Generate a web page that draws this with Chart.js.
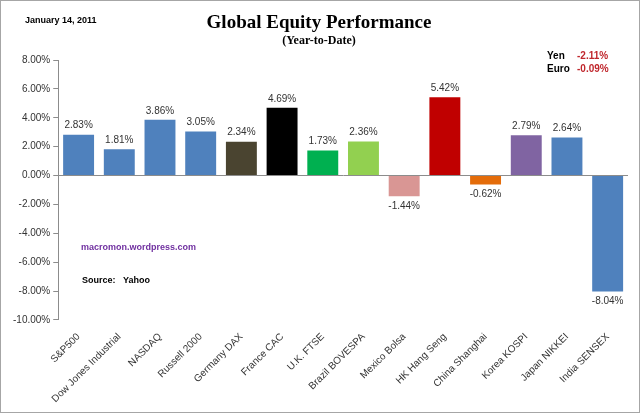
<!DOCTYPE html>
<html>
<head>
<meta charset="utf-8">
<script src="https://cdn.jsdelivr.net/npm/chart.js@4"></script>
<style>
  html, body { margin: 0; padding: 0; background: #fff; }
  #wrap { position: relative; width: 638px; height: 411px; border: 1px solid #a6a6a6; }
</style>
</head>
<body>
<div id="wrap"><canvas id="chart" width="638" height="411"></canvas></div>
<script>
const categories = ["S&P500", "Dow Jones Industrial", "NASDAQ", "Russell 2000", "Germany DAX",
  "France CAC", "U.K. FTSE", "Brazil BOVESPA", "Mexico Bolsa", "HK Hang Seng",
  "China Shanghai", "Korea KOSPI", "Japan NIKKEI", "India SENSEX"];
const performance = [2.83, 1.81, 3.86, 3.05, 2.34, 4.69, 1.73, 2.36, -1.44, 5.42, -0.62, 2.79, 2.64, -8.04];
const barColors = ["#4f81bd", "#4f81bd", "#4f81bd", "#4f81bd", "#4a4430", "#000000", "#00b050",
  "#92d050", "#d99694", "#c00000", "#e46c0a", "#8064a2", "#4f81bd", "#4f81bd"];
const yTicks = [-10, -8, -6, -4, -2, 0, 2, 4, 6, 8];
const currencyNames = ["Yen", "Euro"];
const currencyValues = ["-2.11%", "-0.09%"];

const labelFont = "'Liberation Sans', Arial, sans-serif";

const annotations = {
  id: "annotations",
  afterDatasetsDraw(chart) {
    const ctx = chart.ctx;
    const meta = chart.getDatasetMeta(0);
    ctx.save();
    ctx.font = "10px " + labelFont;
    ctx.fillStyle = "#333";
    ctx.textAlign = "center";
    meta.data.forEach((bar, i) => {
      const v = performance[i];
      if (v >= 0) {
        ctx.textBaseline = "bottom";
        ctx.fillText(v.toFixed(2) + "%", bar.x, bar.y - 4);
      } else {
        ctx.textBaseline = "top";
        ctx.fillText(v.toFixed(2) + "%", bar.x, bar.y + 5);
      }
    });
    ctx.restore();
  },
  afterDraw(chart) {
    const ctx = chart.ctx;
    ctx.save();
    ctx.fillStyle = "#000";
    ctx.textBaseline = "alphabetic";
    ctx.textAlign = "center";
    ctx.font = "bold 19px 'Liberation Serif', 'Times New Roman', serif";
    ctx.fillText("Global Equity Performance", 318, 27);
    ctx.font = "bold 12px 'Liberation Serif', 'Times New Roman', serif";
    ctx.fillText("(Year-to-Date)", 318, 43);
    ctx.textAlign = "left";
    ctx.font = "bold 9px " + labelFont;
    ctx.fillText("January 14, 2011", 24, 22);

    ctx.font = "bold 10px " + labelFont;
    currencyNames.forEach((n, i) => {
      ctx.fillStyle = "#000";
      ctx.fillText(n, 546, 58 + i * 13);
      ctx.fillStyle = "#c0272d";
      ctx.fillText(currencyValues[i], 576, 58 + i * 13);
    });

    ctx.fillStyle = "#7030a0";
    ctx.font = "bold 9px " + labelFont;
    ctx.fillText("macromon.wordpress.com", 80, 249);
    ctx.fillStyle = "#000";
    ctx.fillText("Source:   Yahoo", 81, 282);
    ctx.restore();
  }
};

new Chart(document.getElementById("chart"), {
  type: "bar",
  data: {
    labels: categories,
    datasets: [{
      data: performance,
      backgroundColor: barColors,
      barPercentage: 0.76,
      categoryPercentage: 1
    }]
  },
  options: {
    responsive: false,
    animation: false,
    layout: { padding: { top: 59, right: 11, left: 9, bottom: 4 } },
    plugins: { legend: { display: false }, tooltip: { enabled: false } },
    scales: {
      x: {
        grid: { display: false },
        border: { display: false },
        ticks: {
          minRotation: 45, maxRotation: 45, autoSkip: false,
          color: "#333", font: { family: labelFont, size: 10 }
        }
      },
      y: {
        min: -10, max: 8,
        afterBuildTicks(axis) { axis.ticks = yTicks.map(v => ({ value: v })); },
        grid: {
          drawOnChartArea: true,
          color: c => (c.tick && c.tick.value === 0) ? "#8c8c8c" : "rgba(0,0,0,0)",
          tickColor: "#8c8c8c", tickLength: 5, lineWidth: 1
        },
        border: { display: true, color: "#8c8c8c" },
        ticks: {
          color: "#333", padding: 3,
          font: { family: labelFont, size: 10 },
          callback: v => v.toFixed(2) + "%"
        }
      }
    }
  },
  plugins: [annotations]
});
</script>
</body>
</html>
